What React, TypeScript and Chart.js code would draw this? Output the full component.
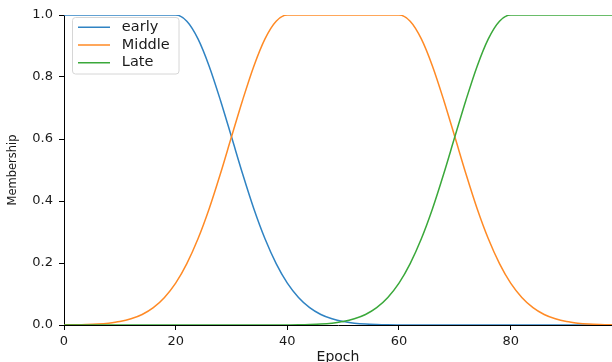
import React, { useEffect, useRef } from 'react';
import Chart from 'chart.js/auto';

const epochs = [
  0, 2, 4, 6, 8, 10, 12, 14, 16, 18, 20, 22, 24, 26, 28, 30, 32, 34, 36, 38,
  40, 42, 44, 46, 48, 50, 52, 54, 56, 58, 60, 62, 64, 66, 68, 70, 72, 74, 76, 78,
  80, 82, 84, 86, 88, 90, 92, 94, 96, 98, 99,
];

const early = [
  1, 1, 1, 1, 1, 1, 1, 1, 1, 1, 1, 0.98, 0.923, 0.835, 0.726, 0.607, 0.487, 0.375, 0.278, 0.198,
  0.135, 0.089, 0.056, 0.034, 0.02, 0.011, 0.006, 0.003, 0.0015, 0.0007, 0.0003, 0, 0, 0, 0, 0, 0, 0, 0, 0,
  0, 0, 0, 0, 0, 0, 0, 0, 0, 0, 0,
];

const middle = [
  0.0003, 0.0007, 0.0015, 0.003, 0.006, 0.011, 0.02, 0.034, 0.056, 0.089, 0.135, 0.198, 0.278, 0.375, 0.487, 0.607, 0.726, 0.835, 0.923, 0.98,
  1, 1, 1, 1, 1, 1, 1, 1, 1, 1, 1, 0.98, 0.923, 0.835, 0.726, 0.607, 0.487, 0.375, 0.278, 0.198,
  0.135, 0.089, 0.056, 0.034, 0.02, 0.011, 0.006, 0.003, 0.0015, 0.0007, 0.0005,
];

const late = [
  0, 0, 0, 0, 0, 0, 0, 0, 0, 0, 0, 0, 0, 0, 0, 0, 0, 0, 0, 0,
  0.0003, 0.0007, 0.0015, 0.003, 0.006, 0.011, 0.02, 0.034, 0.056, 0.089, 0.135, 0.198, 0.278, 0.375, 0.487, 0.607, 0.726, 0.835, 0.923, 0.98,
  1, 1, 1, 1, 1, 1, 1, 1, 1, 1, 1,
];

const seriesNames = ['early', 'Middle', 'Late'];
const seriesColors = ['#2f83c3', '#ff8a25', '#3aa83a'];
const xTicks = [0, 20, 40, 60, 80];
const yTicks = [0, 0.2, 0.4, 0.6, 0.8, 1.0];
const xLabel = 'Epoch';
const yLabel = 'Membership';

const FONT = 'DejaVu Sans';
const TEXT = '#1a1a1a';

export default function App() {
  const ref = useRef<HTMLCanvasElement>(null);

  useEffect(() => {
    const canvas = ref.current;
    if (!canvas) return;

    const legendFrame = {
      id: 'legendFrame',
      beforeDraw(chart: any) {
        const lg = chart.legend;
        const ca = chart.chartArea;
        if (!lg || !ca) return;
        lg.left = ca.left + 10.8;
        lg.top = ca.top + 1.85;
        const ctx = chart.ctx as CanvasRenderingContext2D;
        const x = Math.round(ca.left + 8.3) + 0.5;
        const y = Math.round(ca.top + 2.3) + 0.5;
        const w = 106.5;
        const h = 56.5;
        const r = 3;
        ctx.save();
        ctx.beginPath();
        ctx.moveTo(x + r, y);
        ctx.lineTo(x + w - r, y);
        ctx.arcTo(x + w, y, x + w, y + r, r);
        ctx.lineTo(x + w, y + h - r);
        ctx.arcTo(x + w, y + h, x + w - r, y + h, r);
        ctx.lineTo(x + r, y + h);
        ctx.arcTo(x, y + h, x, y + h - r, r);
        ctx.lineTo(x, y + r);
        ctx.arcTo(x, y, x + r, y, r);
        ctx.closePath();
        ctx.fillStyle = 'rgba(255,255,255,0.8)';
        ctx.fill();
        ctx.strokeStyle = '#d6d6d6';
        ctx.lineWidth = 1;
        ctx.stroke();
        ctx.restore();
      },
    };

    const seriesData = [early, middle, late];
    const datasets = seriesNames.map((name, i) => ({
      label: name,
      data: epochs.map((x, j) => ({ x, y: seriesData[i][j] })),
      borderColor: seriesColors[i],
      backgroundColor: seriesColors[i],
      borderWidth: 1.5,
      pointRadius: 0,
      fill: false,
      cubicInterpolationMode: 'monotone',
      order: seriesNames.length - 1 - i,
    }));

    const axisGrid = {
      display: true,
      drawOnChartArea: false,
      drawTicks: true,
      tickLength: 5,
      color: '#000',
      lineWidth: 1,
    };

    const chart = new Chart(canvas, {
      type: 'line',
      data: { datasets },
      plugins: [legendFrame],
      options: {
        responsive: false,
        animation: false,
        devicePixelRatio: 1,
        layout: { padding: { top: 15, right: 0, bottom: 0, left: 0 } },
        plugins: {
          tooltip: { enabled: false },
          legend: {
            display: true,
            position: 'chartArea',
            align: 'start',
            labels: {
              usePointStyle: true,
              pointStyle: 'line',
              pointStyleWidth: 32,
              padding: 3.2,
              color: TEXT,
              font: { family: FONT, size: 14.5 },
              generateLabels: (ch: any) =>
                Chart.defaults.plugins.legend.labels
                  .generateLabels(ch)
                  .map((l: any) => ({ ...l, text: ' ' + l.text }))
                  .sort((a: any, b: any) => a.datasetIndex - b.datasetIndex),
            },
          },
        },
        scales: {
          x: {
            type: 'linear',
            min: 0,
            max: 98.15,
            afterBuildTicks: (s: any) => {
              s.ticks = xTicks.map((v) => ({ value: v }));
            },
            afterFit: (s: any) => {
              s.height = 45;
            },
            ticks: {
              color: TEXT,
              font: { family: FONT, size: 13 },
              padding: 4,
              maxRotation: 0,
              autoSkip: false,
              callback: (v: any) => String(v),
            },
            title: {
              display: true,
              text: xLabel,
              color: TEXT,
              font: { family: FONT, size: 14 },
              padding: { top: 4, bottom: 4 },
            },
            grid: axisGrid,
            border: { display: true, color: '#000', width: 1 },
          },
          y: {
            type: 'linear',
            min: 0,
            max: 1,
            afterBuildTicks: (s: any) => {
              s.ticks = yTicks.map((v) => ({ value: v }));
            },
            afterFit: (s: any) => {
              s.width = 64;
            },
            ticks: {
              color: TEXT,
              font: { family: FONT, size: 13 },
              padding: 6,
              callback: (v: any) => Number(v).toFixed(1),
            },
            title: {
              display: true,
              text: yLabel,
              color: TEXT,
              font: { family: FONT, size: 11.5 },
              padding: { top: 6, bottom: 4 },
            },
            grid: axisGrid,
            border: { display: true, color: '#000', width: 1 },
          },
        },
      },
    } as any);

    return () => {
      chart.destroy();
    };
  }, []);

  return (
    <div
      style={{
        position: 'fixed',
        left: 0,
        top: 0,
        width: 612,
        height: 362,
        overflow: 'hidden',
        background: '#fff',
      }}
    >
      <canvas ref={ref} width={612} height={370} style={{ display: 'block' }} />
    </div>
  );
}
